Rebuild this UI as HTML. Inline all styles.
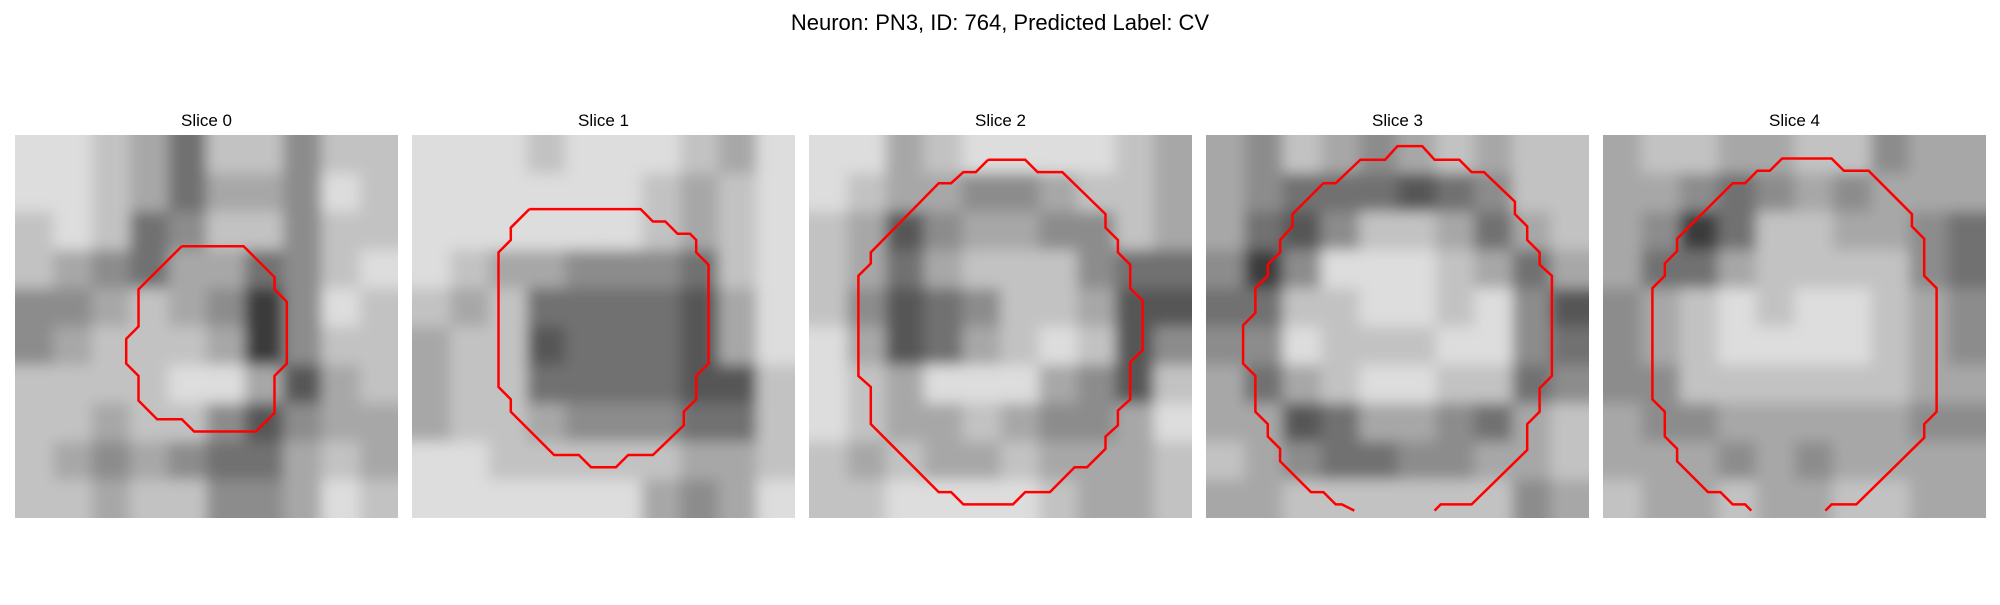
<!DOCTYPE html>
<html><head><meta charset="utf-8"><style>
body{margin:0;background:#fff;width:2000px;height:600px;overflow:hidden;font-family:"Liberation Sans","DejaVu Sans",sans-serif}
</style></head><body>
<svg id="fig" width="2000" height="600" xmlns="http://www.w3.org/2000/svg">
<defs>
<filter id="soft" x="-10%" y="-10%" width="120%" height="120%"><feGaussianBlur stdDeviation="7"/></filter>
</defs>
<text x="1000" y="30" text-anchor="middle" font-size="22" fill="#000">Neuron: PN3, ID: 764, Predicted Label: CV</text>
</svg>
<script>
const sliceTitles = ["Slice 0","Slice 1","Slice 2","Slice 3","Slice 4"];
// coarse 10x10 intensity grids (0 dark .. 9 white)
const grid0 = ["8876477577","8876466587","7874577577","7654664578","5567652587","5677762577","7777886367","7767753566","7656544676","7767755687"];
const grid1 = ["8887888768","8888887678","8888887678","8766555478","7674444368","6773444368","6774444337","6776555447","8877777667","8888886568"];
const grid2 = ["8867888876","8766556776","7635665576","7646777544","7534577633","8634678735","8768886537","8766765568","7676676667","7788887667"];
const grid3 = ["6576567677","6544434577","6435776467","5258887646","4477887853","5587778854","6467887745","6634665467","7654455667","6677777756"];
const grid4 = ["6776677566","6654565666","6524776654","6446777754","5678788765","5678888765","5577777766","6556666655","6665656666","7667667766"];
const grids = [grid0,grid1,grid2,grid3,grid4];
// contours in cell units (31x31 image)
const contour0 = [[13.5,9],[18.5,9],[21,11.5],[21,12.5],[22,13.5],[22,18.5],[21,19.5],[21,22.5],[19.5,24],[14.5,24],[13.5,23],[11.5,23],[10,21.5],[10,19.5],[9,18.5],[9,16.5],[10,15.5],[10,12.5],[13.5,9]];
const contour1 = [[9.5,6],[18.5,6],[19.5,7],[20.5,7],[21.5,8],[22.5,8],[23,8.5],[23,9.5],[24,10.5],[24,18.5],[23,19.5],[23,21.4],[22,22.4],[22,23.5],[19.5,25.9],[17.5,25.9],[16.5,26.9],[14.5,26.9],[13.5,25.9],[11.5,25.9],[8,22.4],[8,21.4],[7,20.4],[7,9.5],[8,8.5],[8,7.5],[9.5,6]];
const contour2 = [[14.5,2],[17.5,2],[18.5,3],[20.5,3],[24,6.4],[24,7.5],[25,8.5],[25,9.5],[26,10.5],[26,12.4],[27,13.4],[27,17.4],[26,18.4],[26,21.4],[25,22.3],[25,23.5],[24,24.4],[24,25.4],[22.5,26.9],[21.5,26.9],[19.5,28.9],[17.5,28.9],[16.5,29.9],[12.5,29.9],[11.5,28.9],[10.5,28.9],[5,23.4],[5,20.4],[4,19.5],[4,11.4],[5,10.4],[5,9.5],[10.5,3.9],[11.5,3.9],[12.5,3],[13.5,3],[14.5,2]];
const contour3 = [[12,30.4],[11,29.9],[10.5,29.9],[9.5,28.9],[8.5,28.9],[6,26.4],[6,25.4],[5,24.4],[5,23.4],[4,22.4],[4,19.5],[3,18.5],[3,15.4],[4,14.4],[4,12.4],[5,11.4],[5,10.5],[6,9.5],[6,8.5],[7,7.4],[7,6.4],[9.5,3.9],[10.5,3.9],[12.5,2],[14.5,2],[15.5,0.9],[17.5,0.9],[18.5,2],[20.5,2],[21.5,3],[22.5,3],[25,5.4],[25,6.4],[26,7.4],[26,8.5],[27,9.5],[27,10.5],[28,11.4],[28,19.5],[27,20.5],[27,22.4],[26,23.4],[26,25.5],[21.5,29.9],[19,29.9],[18.5,30.4]];
const contour4 = [[12,30.4],[11.5,29.9],[10.5,29.9],[9.5,28.9],[8.5,28.9],[6,26.4],[6,25.4],[5,24.4],[5,22.4],[4,21.4],[4,12.4],[5,11.4],[5,10.4],[6,9.4],[6,8.4],[10.5,3.9],[11.5,3.9],[12.5,2.9],[13.5,2.9],[14.5,1.9],[18.5,1.9],[19.5,2.9],[21.5,2.9],[25,6.4],[25,7.4],[26,8.4],[26,11.4],[27,12.4],[27,22.4],[26,23.4],[26,24.5],[20.5,29.9],[18.5,29.9],[18,30.4]];
const contours = [contour0,contour1,contour2,contour3,contour4];

const NS = "http://www.w3.org/2000/svg";
const svg = document.getElementById('fig');
const defs = svg.querySelector('defs');
const P0 = 15, STEP = 397, TOP = 135, SIZE = 383, NCELL = 31, PAD = 25;
function panelX(i){ return P0 + i*STEP; }
function cellScale(v){ return v * SIZE / NCELL; }
function gray(v){ const g = Math.max(0, Math.min(255, Math.round(5 + 27*v))); return `rgb(${g},${g},${g})`; }

sliceTitles.forEach((t,i)=>{
  const x0 = panelX(i);
  const cp = document.createElementNS(NS,'clipPath');
  cp.setAttribute('id','clip'+i);
  const cr = document.createElementNS(NS,'rect');
  cr.setAttribute('x',x0); cr.setAttribute('y',TOP); cr.setAttribute('width',SIZE); cr.setAttribute('height',SIZE);
  cp.appendChild(cr); defs.appendChild(cp);

  const g = document.createElementNS(NS,'g');
  
  
  svg.appendChild(g);
  const outer = document.createElementNS(NS,'g');
  outer.setAttribute('clip-path','url(#clip'+i+')');
  g.appendChild(outer);
  const img = document.createElementNS(NS,'g');
  
  
  img.setAttribute('filter','url(#soft)');
  outer.appendChild(img);
  const grid = grids[i];
  const n = grid.length, bs = SIZE / n;
  for (let r=0;r<n;r++) for (let c=0;c<grid[r].length;c++){
    let x = x0 + c*bs, y = TOP + r*bs, w = bs+0.5, h = bs+0.5;
    if (c===0){ x -= PAD; w += PAD; }
    if (c===grid[r].length-1){ w += PAD; }
    if (r===0){ y -= PAD; h += PAD; }
    if (r===n-1){ h += PAD; }
    const rect = document.createElementNS(NS,'rect');
    
    
    rect.setAttribute('x', x.toFixed(2));
    rect.setAttribute('y', y.toFixed(2));
    rect.setAttribute('width', w.toFixed(2));
    rect.setAttribute('height', h.toFixed(2));
    rect.setAttribute('fill', gray(+grid[r][c]));
    img.appendChild(rect);
  }
  const pts = contours[i].map(p => (x0 + cellScale(p[0])).toFixed(1) + ',' + (TOP + cellScale(p[1])).toFixed(1)).join(' ');
  const pl = document.createElementNS(NS,'polyline');
  
  
  pl.setAttribute('points', pts);
  pl.setAttribute('fill', 'none');
  pl.setAttribute('stroke', '#ff0000');
  pl.setAttribute('stroke-width', '2.5');
  g.appendChild(pl);
  const tx = document.createElementNS(NS,'text');
  
  
  tx.setAttribute('x', x0 + SIZE/2);
  tx.setAttribute('y', 126);
  tx.setAttribute('text-anchor', 'middle');
  tx.setAttribute('font-size', '17');
  tx.textContent = t;
  g.appendChild(tx);
});
</script>
</body></html>
